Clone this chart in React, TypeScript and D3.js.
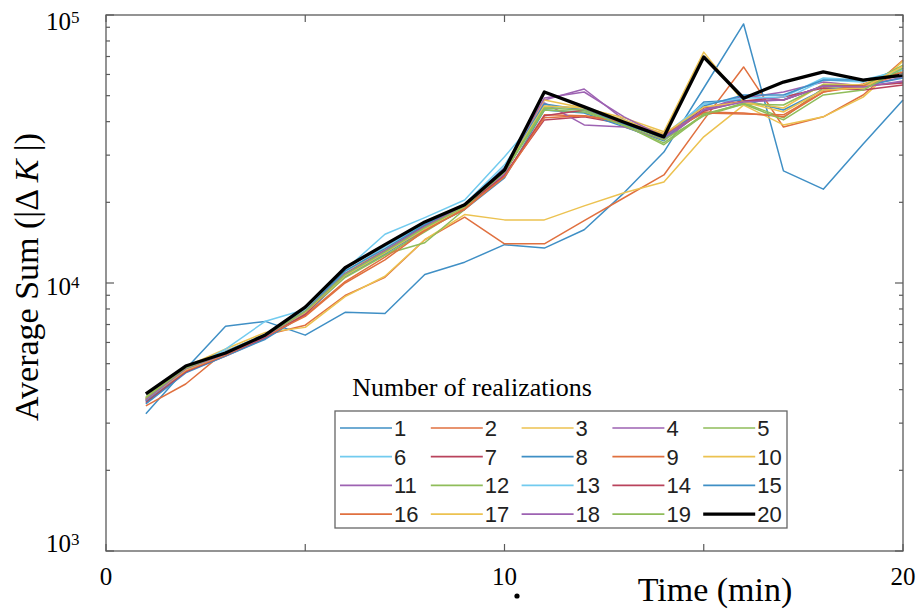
import React, { useEffect, useRef } from 'react';
import * as d3 from 'd3';

// time (min) of each sample
const times = [1, 2, 3, 4, 5, 6, 7, 8, 9, 10, 11, 12, 13, 14, 15, 16, 17, 18, 19, 20];

// average sum |dK| for each number of realizations
const n1 = [3250, 4780, 6900, 7190, 6390, 7770, 7700, 10750, 11960, 13900, 13500, 15800, 21700, 30800, 53400, 92600, 26200, 22400, 33000, 48200];
const n2 = [3480, 4200, 5570, 6400, 6960, 8980, 10500, 14500, 17600, 14000, 14000, 17100, 20800, 25300, 40600, 64000, 38200, 41700, 50300, 67900];
const n3 = [3700, 4870, 5670, 6540, 6830, 8900, 10600, 14500, 18000, 17200, 17200, 19400, 21700, 23800, 35100, 46100, 38900, 41700, 49400, 67300];
const n4 = [3640, 4740, 5380, 6280, 7770, 10750, 13070, 16360, 19430, 26900, 48200, 52950, 40600, 34200, 44200, 49000, 51600, 56200, 54300, 58700];
const n5 = [3760, 4820, 5480, 6380, 7830, 10660, 12800, 14130, 18800, 25950, 44980, 45360, 38900, 32800, 42400, 46980, 41330, 53410, 53410, 62300];
const n6 = [3610, 4700, 5670, 7200, 7970, 11200, 15200, 17540, 20400, 29590, 44200, 43450, 40600, 35400, 46570, 49440, 48200, 57200, 56200, 63350];
const n7 = [3575, 4660, 5340, 6220, 7700, 11010, 13070, 16080, 19270, 25300, 40600, 41680, 39230, 34800, 44980, 47790, 49440, 53410, 52500, 54800];
const n8 = [3540, 4620, 5340, 6170, 7640, 10570, 12850, 15800, 18800, 24660, 44200, 43080, 38240, 33910, 47380, 48200, 44200, 52500, 54300, 58190];
const n9 = [3670, 4700, 5430, 6330, 7575, 10120, 12480, 15800, 18800, 25080, 42400, 42040, 39910, 35400, 43450, 43080, 41680, 51600, 55260, 61240];
const n10 = [3730, 4860, 5525, 6380, 7900, 10920, 13300, 16360, 19600, 26400, 48200, 44980, 41330, 36660, 72700, 47380, 44980, 55260, 54800, 64450];
const n11 = [3640, 4780, 5430, 6280, 7700, 10820, 13070, 16080, 19270, 25510, 46980, 38900, 38240, 34200, 44200, 49870, 48200, 54300, 54300, 56200];
const n12 = [3700, 4780, 5430, 6330, 7770, 10480, 12690, 15530, 19100, 25950, 44200, 43450, 38900, 34200, 42040, 46570, 46150, 54800, 54300, 65000];
const n13 = [3670, 4820, 5570, 6440, 7900, 11010, 13660, 16620, 19710, 27600, 45760, 44590, 40600, 35700, 46570, 49000, 49440, 58190, 57200, 62300];
const n14 = [3610, 4660, 5380, 6280, 7640, 10820, 13190, 16360, 19430, 25080, 42040, 44200, 39910, 35400, 43820, 47790, 48200, 54300, 54300, 55750];
const n15 = [3640, 4740, 5430, 6380, 7830, 11100, 13430, 16500, 19600, 26900, 46570, 44200, 39230, 34800, 45760, 50300, 50300, 57200, 57200, 59190];
const n16 = [3700, 4700, 5380, 6330, 7510, 10000, 12200, 15670, 18940, 24870, 41330, 42040, 39910, 36040, 43080, 42700, 42400, 51600, 54300, 60190];
const n17 = [3670, 4740, 5430, 6380, 7770, 10660, 12960, 15940, 19270, 26400, 45760, 44980, 40600, 36040, 45360, 47380, 43450, 52500, 53410, 64450];
const n18 = [3670, 4780, 5430, 6330, 7830, 10820, 13190, 16220, 19430, 26670, 49000, 51600, 41680, 35100, 44200, 47380, 48200, 54300, 53870, 56710];
const n19 = [3730, 4820, 5480, 6380, 7830, 10750, 13070, 16080, 19270, 26170, 44980, 44200, 38570, 33330, 42700, 46570, 40600, 50300, 52500, 63350];
const n20 = [3860, 4900, 5480, 6400, 8130, 11400, 13900, 16900, 19600, 26400, 51600, 45400, 39800, 35100, 69700, 48900, 56200, 61300, 57200, 59700];

const series = [n1, n2, n3, n4, n5, n6, n7, n8, n9, n10, n11, n12, n13, n14, n15, n16, n17, n18, n19, n20];
const seriesNames = series.map((_, i) => String(i + 1));

// faded MATLAB-like line colours, cycling
const palette = ['#3f8fc5', '#e0703f', '#ecc250', '#9d62b2', '#8fbd5a', '#72cbef', '#b9435c'];

const xTicks = [0, 5, 10, 15, 20];
const xTickLabels = ['0', '', '10', '', '20'];
const yMajor = [1e3, 1e4, 1e5];

const App = () => {
    const ref = useRef(null);

    useEffect(() => {
        const svg = d3.select(ref.current);
        svg.selectAll('*').remove();

        const left = 106, right = 903, top = 15, bottom = 551;
        const axisColor = '#5a5a5a';
        const serif = '"Liberation Serif", "Times New Roman", serif';
        const sans = '"Liberation Sans", Arial, sans-serif';

        const x = d3.scaleLinear().domain([0, 20]).range([left, right]);
        const y = d3.scaleLog().domain([1e3, 1e5]).range([bottom, top]);

        const color = (i) => (i === 19 ? '#000' : palette[i % palette.length]);

        // lines
        const line = d3.line()
            .x((d, i) => x(times[i]))
            .y((d) => y(d));

        const gLines = svg.append('g');
        series.forEach((s, i) => {
            gLines.append('path')
                .attr('d', line(s))
                .attr('fill', 'none')
                .attr('stroke', color(i))
                .attr('stroke-width', i === 19 ? 3.3 : 1.5)
                .attr('stroke-linejoin', 'round');
        });

        // frame
        svg.append('rect')
            .attr('x', left).attr('y', top)
            .attr('width', right - left).attr('height', bottom - top)
            .attr('fill', 'none')
            .attr('stroke', axisColor)
            .attr('stroke-width', 1.3);

        // x ticks (inward, bottom and top)
        const gx = svg.append('g').attr('stroke', axisColor).attr('stroke-width', 1.2);
        xTicks.forEach((t) => {
            gx.append('line').attr('x1', x(t)).attr('x2', x(t)).attr('y1', bottom).attr('y2', bottom - 7);
            gx.append('line').attr('x1', x(t)).attr('x2', x(t)).attr('y1', top).attr('y2', top + 7);
        });
        svg.append('g').selectAll('text').data(xTicks).enter()
            .append('text')
            .attr('x', (d) => x(d))
            .attr('y', 585)
            .attr('text-anchor', 'middle')
            .attr('font-family', serif)
            .attr('font-size', 25)
            .text((d, i) => xTickLabels[i]);

        // y ticks, log major + minor
        const yMinor = [];
        [1e3, 1e4].forEach((dec) => {
            for (let k = 2; k <= 9; k++) yMinor.push(k * dec);
        });
        const gy = svg.append('g').attr('stroke', axisColor).attr('stroke-width', 1.2);
        yMajor.concat(yMinor).forEach((v) => {
            const len = yMajor.includes(v) ? 8 : 4;
            gy.append('line').attr('x1', left).attr('x2', left + len).attr('y1', y(v)).attr('y2', y(v));
            gy.append('line').attr('x1', right).attr('x2', right - len).attr('y1', y(v)).attr('y2', y(v));
        });
        const labelShift = { 3: 1, 4: 12, 5: 15 };
        yMajor.forEach((v) => {
            const e = Math.round(Math.log10(v));
            const t = svg.append('text')
                .attr('x', 46)
                .attr('y', y(v) + labelShift[e])
                .attr('font-family', serif)
                .attr('font-size', 25);
            t.append('tspan').text('10');
            t.append('tspan').attr('font-size', 17).attr('dy', -7).text(String(e));
        });

        // axis titles
        const yTitle = svg.append('text')
            .attr('transform', 'translate(38,277) rotate(-90)')
            .attr('text-anchor', 'middle')
            .attr('font-family', serif)
            .attr('font-size', 34);
        yTitle.append('tspan').text('Average Sum (|\u0394 ');
        yTitle.append('tspan').attr('font-style', 'italic').text('K');
        yTitle.append('tspan').text(' |)');

        svg.append('text')
            .attr('x', 715).attr('y', 601)
            .attr('text-anchor', 'middle')
            .attr('font-family', serif)
            .attr('font-size', 34)
            .text('Time (min)');

        svg.append('circle').attr('cx', 517).attr('cy', 596).attr('r', 2.6).attr('fill', '#000');

        // legend
        const lg = svg.append('g');
        lg.append('text')
            .attr('x', 472).attr('y', 396)
            .attr('text-anchor', 'middle')
            .attr('font-family', serif)
            .attr('font-size', 26)
            .text('Number of realizations');
        lg.append('rect')
            .attr('x', 335).attr('y', 411)
            .attr('width', 452).attr('height', 117)
            .attr('fill', '#fff')
            .attr('stroke', '#666')
            .attr('stroke-width', 1.3);
        seriesNames.forEach((name, i) => {
            const col = i % 5;
            const row = Math.floor(i / 5);
            const lx = 340 + col * 90.8;
            const ly = 428 + row * 28.7;
            lg.append('line')
                .attr('x1', lx).attr('x2', lx + 52)
                .attr('y1', ly).attr('y2', ly)
                .attr('stroke', color(i))
                .attr('stroke-width', i === 19 ? 3.3 : 1.7);
            lg.append('text')
                .attr('x', lx + 54).attr('y', ly + 8)
                .attr('font-family', sans)
                .attr('font-size', 22)
                .attr('fill', '#222')
                .text(name);
        });
    }, []);

    return (
        <svg ref={ref} width={920} height={614}
            style={{ position: 'absolute', left: 0, top: 0, background: '#fff' }} />
    );
};

export default App;
